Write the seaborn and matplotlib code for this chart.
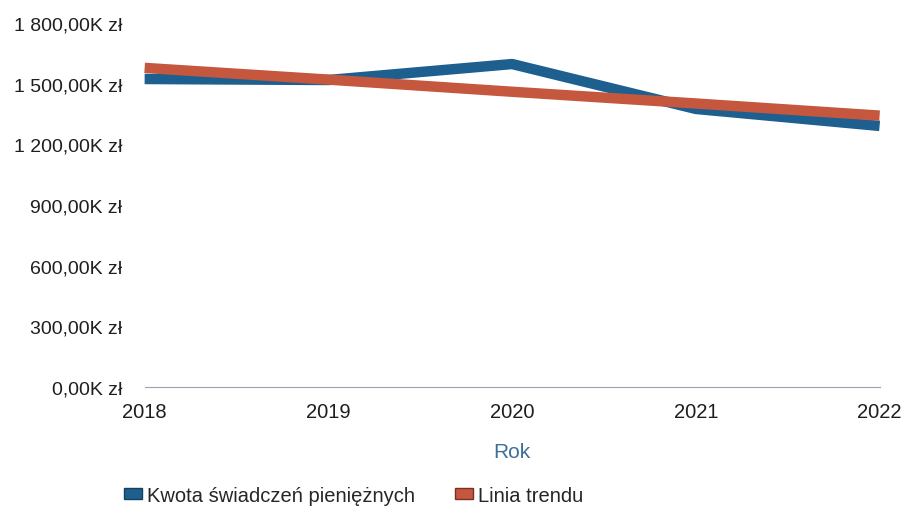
import matplotlib
matplotlib.use("Agg")
import matplotlib.pyplot as plt
import matplotlib.ticker as mticker
from matplotlib.patches import Patch
import pandas as pd
import seaborn as sns

# values, thousands of zł
years = [2018, 2019, 2020, 2021, 2022]
kwota = [1523, 1518, 1597, 1375, 1291]
trend = [1578, 1520, 1460, 1402, 1342]
series_names = ["Kwota świadczeń pieniężnych", "Linia trendu"]
y_ticks = [0, 300, 600, 900, 1200, 1500, 1800]

blue = "#1d5f8e"
red = "#c4573d"

df = pd.DataFrame({
    "Rok": years * 2,
    "value": kwota + trend,
    "series": [series_names[0]] * 5 + [series_names[1]] * 5,
})

sns.set_style("white")
plt.rcParams["font.family"] = ["Liberation Sans", "DejaVu Sans"]

fig = plt.figure(figsize=(9.04, 5.10), dpi=100)
ax = fig.add_axes([0.160, 0.239, 0.813, 0.714])

sns.lineplot(data=df, x="Rok", y="value", hue="series",
             palette=[blue, red], linewidth=7.5, ax=ax, legend=False)
for line in ax.lines:
    line.set_clip_on(False)
    line.set_solid_capstyle("butt")

def fmt(v, pos):
    s = f"{v:,.2f}".replace(",", " ").replace(".", ",")
    return f"{s}K zł"

ax.set_xlim(2018, 2022)
ax.set_ylim(0, 1800)
ax.set_yticks(y_ticks)
ax.yaxis.set_major_formatter(mticker.FuncFormatter(fmt))
ax.set_xticks(years)
ax.tick_params(axis="y", labelsize=14, pad=16, length=0, colors="#1e1e1e")
ax.tick_params(axis="x", labelsize=14.5, pad=11, length=0, colors="#1e1e1e")
ax.set_ylabel("")
ax.set_xlabel("Rok", fontsize=15, color="#3d6f9a", labelpad=15)

sns.despine(ax=ax, left=True)
ax.spines["bottom"].set_color("#9aa3ad")
ax.spines["bottom"].set_linewidth(0.8)

handles = [Patch(facecolor=blue, edgecolor="#16405f"),
           Patch(facecolor=red, edgecolor="#7a2f25")]
fig.legend(handles, series_names, loc="lower left",
           bbox_to_anchor=(0.117, -0.027), ncol=2, frameon=False,
           fontsize=14.5, handlelength=0.9, handleheight=0.5,
           handletextpad=0.25, columnspacing=2.0)

fig.savefig("out.png", dpi=100)
